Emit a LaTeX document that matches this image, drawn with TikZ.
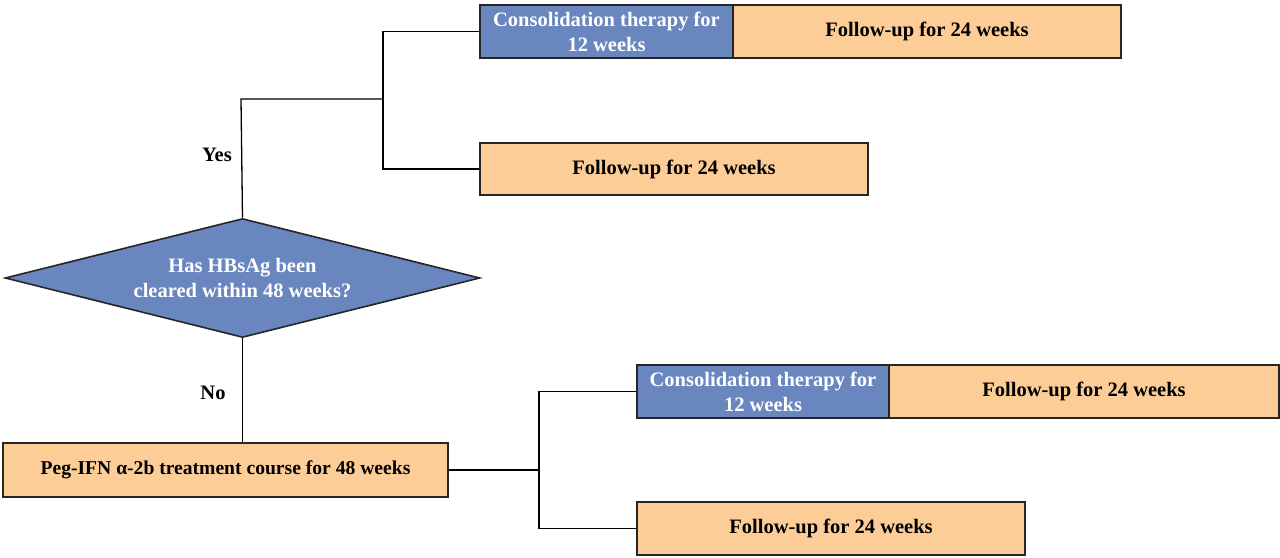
\documentclass[tikz,border=0pt]{standalone}
\usepackage{fontspec}
\setmainfont{Liberation Serif}
\usetikzlibrary{shapes.geometric}
\definecolor{cblue}{RGB}{106,134,190}
\definecolor{corange}{RGB}{252,205,150}
\tikzset{
  txt/.style={font=\fontsize{20.5}{25}\selectfont\bfseries},
  box/.style={draw=black!85, line width=1.6pt, inner sep=0pt, txt, align=center},
  obox/.style={box, fill=corange, text=black},
  bbox/.style={box, fill=cblue, text=white},
  conn/.style={draw=black, line width=1.3pt},
  lbl/.style={txt, text=black}
}
\begin{document}
\begin{tikzpicture}[x=1pt,y=-1pt]
\useasboundingbox (0,0) rectangle (1280,557);
% top group
\node[bbox, minimum width=253pt, minimum height=53pt] (c1) at (606.5,31.5) {Consolidation therapy for\\12 weeks};
\node[obox, minimum width=388pt, minimum height=53pt] (f1) at (927,31.5) {Follow-up for 24 weeks};
\node[obox, minimum width=388pt, minimum height=52pt] (f2) at (674,169) {Follow-up for 24 weeks};
% diamond
\node[draw=black!85, line width=1.6pt, fill=cblue, diamond, aspect=4, inner sep=0pt, minimum width=475pt, minimum height=119pt, text=white, txt, align=center] (d) at (242.5,278) {Has HBsAg been\\cleared within 48 weeks?};
% peg box
\node[obox, minimum width=445pt, minimum height=54pt, font=\fontsize{19.6}{24}\selectfont\bfseries] (p) at (225.5,470) {Peg-IFN α-2b treatment course for 48 weeks};
% bottom group
\node[bbox, minimum width=252pt, minimum height=53pt] (c2) at (763,391.5) {Consolidation therapy for\\12 weeks};
\node[obox, minimum width=390pt, minimum height=53pt] (f3) at (1084,391.5) {Follow-up for 24 weeks};
\node[obox, minimum width=388pt, minimum height=53pt] (f4) at (831,528.5) {Follow-up for 24 weeks};
% connectors
\coordinate (ya) at (241,99);
\coordinate (yb) at (383,99);
\draw[conn] (d.north) -- (ya) -- (yb);
\draw[conn] (c1.west) -| (yb) |- (f2.west);
\node[lbl] (yes) at (217,155) {Yes};
\draw[conn] (d.south) -- (p.north -| d.south);
\node[lbl] (no) at (213,393) {No};
\coordinate (nb) at (539,470);
\draw[conn] (p.east) -- (nb);
\draw[conn] (c2.west) -| (nb) |- (f4.west);
\end{tikzpicture}
\end{document}
